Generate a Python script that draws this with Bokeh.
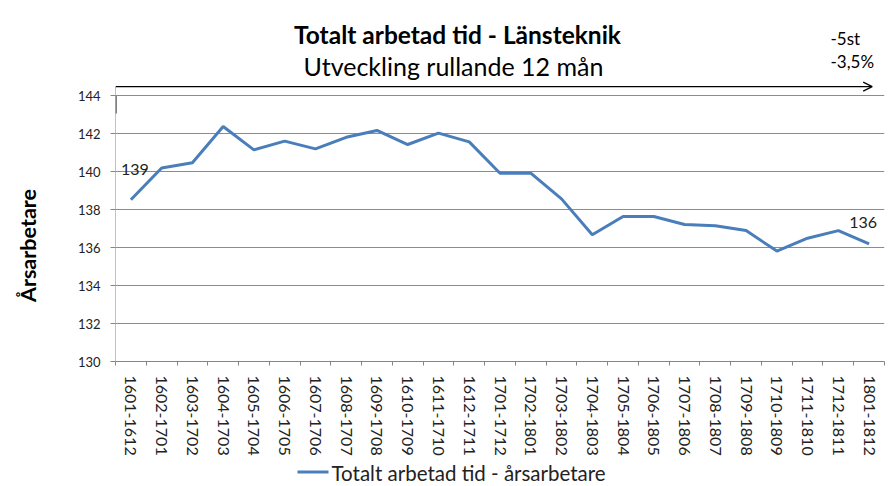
import math
from bokeh.plotting import figure
from bokeh.layouts import column, row
from bokeh.core.properties import value
from bokeh.models import (Range1d, FixedTicker, Label, Arrow, OpenHead)
from bokeh.embed import file_html
from bokeh.resources import INLINE

categories = ["1601-1612", "1602-1701", "1603-1702", "1604-1703", "1605-1704",
              "1606-1705", "1607-1706", "1608-1707", "1609-1708", "1610-1709",
              "1611-1710", "1612-1711", "1701-1712", "1702-1801", "1703-1802",
              "1704-1803", "1705-1804", "1706-1805", "1707-1806", "1708-1807",
              "1709-1808", "1710-1809", "1711-1810", "1712-1811", "1801-1812"]
values = [138.51, 140.18, 140.46, 142.37, 141.14, 141.60, 141.19, 141.80, 142.16,
          141.42, 142.02, 141.56, 139.91, 139.91, 138.56, 136.67, 137.63, 137.63,
          137.21, 137.14, 136.89, 135.81, 136.49, 136.89, 136.19]
y_ticks = [130, 132, 134, 136, 138, 140, 142, 144]
title_text = "Totalt arbetad tid - Länsteknik"
subtitle_text = "Utveckling rullande 12 mån"
series_name = "Totalt arbetad tid -  årsarbetare"
y_label = "Årsarbetare"
note_lines = ["-5st", "-3,5%"]

FONT = "Lato"
AXIS_GRAY = "#868686"
LINE_BLUE = "#4A7EBB"
TEXT = "#222222"
xs = list(range(1, len(categories) + 1))
y_min, y_max = y_ticks[0], y_ticks[-1]
arrow_level = y_max + 0.47

LEFT_W = 50
MAIN_W = 893 - LEFT_W
MAIN_H = 459
LEG_H = 486 - MAIN_H
FRAME_L, FRAME_R = 115, 884   # page x of the plotting area

# ---------------- left strip with the y-axis title ----------------
pl = figure(width=LEFT_W, height=486, output_backend="svg", toolbar_location=None,
            x_axis_location=None, y_axis_location=None,
            x_range=Range1d(0, LEFT_W), y_range=Range1d(0, 486),
            min_border_left=0, min_border_right=0, min_border_top=0, min_border_bottom=0)
pl.outline_line_color = None
pl.xgrid.visible = False
pl.ygrid.visible = False
pl.add_layout(Label(x=27, y=241, text=y_label, angle=math.pi / 2,
                    text_align="center", text_baseline="middle", text_font=FONT,
                    text_font_style="bold", text_font_size="21.5px", text_color="black"))

# ---------------- main chart ----------------
p = figure(width=MAIN_W, height=MAIN_H, output_backend="svg", toolbar_location=None,
           x_range=Range1d(0.5, len(categories) + 0.5),
           y_range=Range1d(y_min, 149.0),
           min_border_left=FRAME_L - LEFT_W, min_border_right=893 - FRAME_R, min_border_top=0,
           min_border_bottom=MAIN_H - 361)
p.outline_line_color = None
p.background_fill_color = "white"
p.border_fill_color = "white"

p.yaxis.ticker = FixedTicker(ticks=y_ticks, minor_ticks=[])
p.ygrid.ticker = FixedTicker(ticks=y_ticks, minor_ticks=[])
p.ygrid.grid_line_color = "#8c8c8c"
p.xgrid.visible = False
p.yaxis.axis_line_color = None
p.yaxis.major_tick_line_color = AXIS_GRAY
p.yaxis.major_tick_out = 5
p.yaxis.major_tick_in = 0
p.yaxis.minor_tick_line_color = None
p.yaxis.major_label_standoff = 10
p.yaxis.major_label_text_font = FONT
p.yaxis.major_label_text_font_size = "13px"
p.yaxis.major_label_text_color = TEXT

p.xaxis.ticker = FixedTicker(ticks=xs, minor_ticks=[x - 0.5 for x in xs] + [xs[-1] + 0.5])
p.xaxis.major_label_overrides = {x: c for x, c in zip(xs, categories)}
p.xaxis.major_label_orientation = "vertical"
p.xaxis.axis_line_color = AXIS_GRAY
p.xaxis.major_tick_line_color = None
p.xaxis.major_tick_out = 0
p.xaxis.major_tick_in = 0
p.xaxis.minor_tick_line_color = AXIS_GRAY
p.xaxis.minor_tick_out = 4
p.xaxis.minor_tick_in = 0
p.xaxis.major_label_standoff = 10
p.xaxis.major_label_text_font = FONT
p.xaxis.major_label_text_font_size = "16px"
p.xaxis.major_label_text_color = TEXT

# y axis line (stops at the arrow) and small marker at its top
p.segment(x0=[0.5], y0=[y_min], x1=[0.5], y1=[arrow_level], line_color=AXIS_GRAY, line_width=1)
p.segment(x0=[0.5], y0=[y_max], x1=[0.5], y1=[y_max - 0.95], line_color="#808080", line_width=3)

# series
r = p.line(xs, values, line_color=LINE_BLUE, line_width=3)

# data labels on first and last point
for i, dx, dy in [(0, 4, 30), (len(values) - 1, -6, 21)]:
    p.add_layout(Label(x=xs[i], y=values[i], text=str(round(values[i])),
                       x_offset=dx, y_offset=dy, text_align="center", text_baseline="middle",
                       text_font=FONT, text_font_size="16px", text_color=TEXT))

# arrow across the top
p.add_layout(Arrow(end=OpenHead(size=9, line_width=1.3, line_color="black"),
                   x_start=0.5, y_start=arrow_level, x_end=25.1, y_end=arrow_level,
                   line_width=1.3, line_color="black"))

# titles (screen units relative to frame: x from frame left, y from frame bottom)
p.add_layout(Label(x=342, y=327, x_units="screen", y_units="screen", text=title_text,
                   text_align="center", text_baseline="middle", text_font=FONT,
                   text_font_style="bold", text_font_size="24.5px", text_color="black"))
p.add_layout(Label(x=338, y=296, x_units="screen", y_units="screen", text=subtitle_text,
                   text_align="center", text_baseline="middle", text_font=FONT,
                   text_font_size="25px", text_color="black"))
for t, yy in zip(note_lines, [323, 300]):
    p.add_layout(Label(x=715, y=yy, x_units="screen", y_units="screen", text=t,
                       text_align="left", text_baseline="middle", text_font=FONT,
                       text_font_size="17px", text_color="black"))

# ---------------- legend strip (its plotting area is aligned with the chart's) ----------------
p2 = figure(width=MAIN_W, height=LEG_H, output_backend="svg", toolbar_location=None,
            x_axis_location=None, y_axis_location=None,
            x_range=Range1d(FRAME_L, FRAME_R), y_range=Range1d(486, MAIN_H),
            min_border_left=0, min_border_right=0, min_border_top=0, min_border_bottom=0)
p2.outline_line_color = None
p2.xgrid.visible = False
p2.ygrid.visible = False
p2.segment(x0=[297], y0=[471.5], x1=[328], y1=[471.5], line_color=LINE_BLUE, line_width=3)
p2.text(x=[331], y=[472], text=[series_name], text_font=value(FONT), text_font_size="20.5px",
        text_color=TEXT, text_align="left", text_baseline="middle")

open("out.html", "w").write(file_html(row(pl, column(p, p2, spacing=0), spacing=0), INLINE))
